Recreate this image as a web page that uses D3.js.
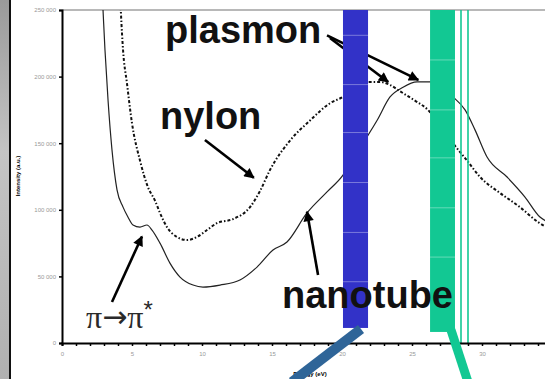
<!DOCTYPE html>
<html>
<head>
<meta charset="utf-8">
<script src="https://cdn.jsdelivr.net/npm/d3@7"></script>
<style>
  body { margin: 0; background: #fff; }
  svg { display: block; }
</style>
</head>
<body>
<div id="chart-area"></div>
<script>
// energy (eV) and intensity (a.u.)
var nanotubeE = [2.86, 2.93, 3.07, 3.29, 3.57, 3.93, 4.36, 4.71, 5.07, 5.57, 6.07, 6.43, 7.0, 7.71, 8.43, 9.36, 10.07, 11.29, 12.71, 13.93, 15.07, 16.07, 17.5, 18.93, 20.07, 20.93, 21.86, 22.5, 23.43, 24.36, 25.36, 26.29, 27.14, 27.93, 28.79, 29.5, 30.36, 31.79, 33.07, 34.14, 34.71];
var nanotubeI = [265000, 250000, 220000, 182000, 145000, 115000, 102000, 94600, 88600, 87000, 88600, 84800, 75000, 60000, 49500, 43500, 42000, 43500, 47300, 57000, 69800, 75800, 97600, 113400, 126000, 141000, 156000, 167000, 184700, 192000, 196000, 196000, 191000, 184700, 175000, 160000, 139600, 124600, 109600, 94600, 90800];

var nylonE = [4.14, 4.21, 4.36, 4.64, 5.0, 5.57, 6.14, 6.64, 7.0, 7.5, 8.21, 8.93, 9.64, 10.36, 11.07, 12.21, 13.43, 14.14, 14.86, 16.29, 17.71, 19.14, 20.07, 21.0, 21.86, 22.71, 23.43, 24.14, 25.21, 26.14, 27.0, 27.93, 28.93, 29.86, 31.29, 32.71, 34.0, 34.71];
var nylonI = [265000, 247700, 220000, 195000, 165000, 137000, 117000, 107000, 97600, 87000, 79600, 77300, 79600, 84800, 90000, 93000, 102000, 114000, 130000, 152000, 167000, 180000, 184700, 191000, 196000, 196000, 193700, 189000, 182000, 175000, 163700, 150000, 137000, 124600, 112600, 102000, 90800, 86300];

var xTickLabels = [0, 5, 10, 15, 20, 25, 30];
var yTickLabels = [0, 50000, 100000, 150000, 200000, 250000];

var width = 545;
var height = 379;
var margin = { top: 10, left: 62, bottom: 36 };
var plotBottom = height - margin.bottom;

var svg = d3.select("#chart-area")
    .append("svg")
    .attr("width", width)
    .attr("height", height);

var defs = svg.append("defs");

var x = d3.scaleLinear().domain([0, 35]).range([margin.left, 552]);
var y = d3.scaleLinear().domain([0, 250000]).range([plotBottom, margin.top]);

// grey photo strip on the left
var grad = defs.append("linearGradient").attr("id", "strip")
    .attr("x1", 0).attr("y1", 0).attr("x2", 0).attr("y2", 1);
grad.append("stop").attr("offset", "0%").attr("stop-color", "#9a9a9a");
grad.append("stop").attr("offset", "40%").attr("stop-color", "#c4c4c4");
grad.append("stop").attr("offset", "100%").attr("stop-color", "#b0b0b0");
svg.append("rect").attr("x", 0).attr("y", 0).attr("width", 9).attr("height", height).attr("fill", "url(#strip)");
svg.append("line").attr("x1", 10).attr("x2", 10).attr("y1", 0).attr("y2", height)
    .attr("stroke", "#111").attr("stroke-width", 2);

defs.append("clipPath").attr("id", "plot")
    .append("rect").attr("x", margin.left).attr("y", margin.top)
    .attr("width", width - margin.left).attr("height", plotBottom - margin.top);

// top frame line
svg.append("line").attr("x1", margin.left).attr("x2", width)
    .attr("y1", margin.top).attr("y2", margin.top)
    .attr("stroke", "#a0a0a0").attr("stroke-width", 1.5);

var line = d3.line()
    .x(d => x(d[0]))
    .y(d => y(d[1]))
    .curve(d3.curveMonotoneX);

var curves = svg.append("g").attr("clip-path", "url(#plot)");

curves.append("path")
    .datum(d3.zip(nanotubeE, nanotubeI))
    .attr("d", line)
    .attr("fill", "none")
    .attr("stroke", "#222")
    .attr("stroke-width", 1.2);

curves.append("path")
    .datum(d3.zip(nylonE, nylonI))
    .attr("d", line)
    .attr("fill", "none")
    .attr("stroke", "#111")
    .attr("stroke-width", 2)
    .attr("stroke-dasharray", "3,2,1.5,2");

// arrowhead
defs.append("marker").attr("id", "head")
    .attr("viewBox", "0 0 10 10").attr("refX", 9).attr("refY", 5)
    .attr("markerWidth", 4.5).attr("markerHeight", 4)
    .attr("markerUnits", "strokeWidth")
    .attr("orient", "auto")
    .append("path").attr("d", "M0,0L10,5L0,10Z").attr("fill", "#000");

function arrow(x1, y1, x2, y2) {
    svg.append("line")
        .attr("x1", x(x1)).attr("y1", y(y1))
        .attr("x2", x(x2)).attr("y2", y(y2))
        .attr("stroke", "#000").attr("stroke-width", 2.6)
        .attr("marker-end", "url(#head)");
}

// plasmon arrows sit beneath the coloured bands
arrow(18.93, 231000, 25.45, 197500);
arrow(19.14, 229000, 23.3, 196000);

// coloured bands
var blue = "#3232c8";
var green = "#12c893";

function band(e0, e1, bottom, col, stripes) {
    svg.append("rect")
        .attr("x", x(e0)).attr("y", y(250000))
        .attr("width", x(e1) - x(e0)).attr("height", y(bottom) - y(250000))
        .attr("fill", col);
    stripes.forEach(v => {
        svg.append("line")
            .attr("x1", x(e0)).attr("x2", x(e1))
            .attr("y1", y(v)).attr("y2", y(v))
            .attr("stroke", "#fff").attr("stroke-opacity", 0.35).attr("stroke-width", 1);
    });
}
band(20.07, 21.86, 11300, blue, [231000, 194000, 158000, 120500, 83000, 46000]);
band(26.29, 28.07, 8300, green, [212500, 175000, 139000, 101500, 64500]);

[28.5, 29.0].forEach(e => {
    svg.append("line")
        .attr("x1", x(e)).attr("x2", x(e))
        .attr("y1", y(250000)).attr("y2", y(0))
        .attr("stroke", green).attr("stroke-width", 1.6);
});

// axes
var xAxis = d3.axisBottom(x)
    .tickValues(d3.range(0, 36, 1))
    .tickSize(3)
    .tickFormat(d => xTickLabels.includes(d) ? d : "");
var gx = svg.append("g")
    .attr("transform", `translate(0, ${plotBottom})`)
    .call(xAxis);
gx.select(".domain").attr("stroke", "#000").attr("stroke-width", 2);
gx.selectAll(".tick line").attr("stroke", "#000").attr("stroke-width", 1.5);
gx.selectAll("text").attr("font-size", "6px").attr("fill", "#999")
    .attr("font-family", "Liberation Sans, Arial, sans-serif").attr("dy", "1.2em");

var yAxis = d3.axisLeft(y)
    .tickValues(yTickLabels)
    .tickSize(3)
    .tickFormat(d => d3.format(",")(d).replace(/,/g, " "));
var gy = svg.append("g")
    .attr("transform", `translate(${margin.left}, 0)`)
    .call(yAxis);
gy.select(".domain").attr("stroke", "#000").attr("stroke-width", 2);
gy.selectAll(".tick line").attr("stroke", "#000").attr("stroke-width", 1.5);
gy.selectAll("text").attr("font-size", "6px").attr("fill", "#999")
    .attr("font-family", "Liberation Sans, Arial, sans-serif");

svg.append("text")
    .attr("transform", "translate(20, 176) rotate(-90)")
    .attr("text-anchor", "middle")
    .attr("font-family", "Liberation Sans, Arial, sans-serif")
    .attr("font-size", "6px").attr("font-weight", "bold")
    .text("Intensity (a.u.)");

svg.append("text")
    .attr("x", 310).attr("y", 376)
    .attr("text-anchor", "middle")
    .attr("font-family", "Liberation Sans, Arial, sans-serif")
    .attr("font-size", "6px").attr("font-weight", "bold")
    .text("Energy (eV)");

// remaining arrows
arrow(3.57, 30800, 5.71, 80000);
arrow(10.21, 152400, 13.7, 124000);
arrow(18.29, 51000, 17.5, 98500);

// big labels
function label(txt, px, py) {
    svg.append("text")
        .attr("x", px).attr("y", py)
        .attr("font-family", "Liberation Sans, Arial, sans-serif")
        .attr("font-size", "38px").attr("font-weight", "bold")
        .attr("fill", "#111")
        .text(txt);
}
label("plasmon", 165, 43);
label("nylon", 160, 129);
label("nanotube", 282, 308);

var pi = svg.append("text")
    .attr("x", 86).attr("y", 328)
    .attr("font-family", "Liberation Serif, Times New Roman, serif")
    .attr("font-size", "32px")
    .attr("fill", "#2a2a2a");
pi.append("tspan").text("π");
pi.append("tspan").attr("font-family", "DejaVu Sans, sans-serif").attr("font-size", "30px").attr("dy", -1).text("→");
pi.append("tspan").attr("dy", 1).text("π");
pi.append("tspan").attr("font-family", "Liberation Sans, Arial, sans-serif").attr("font-size", "24px").attr("dy", -10).text("*");

// thick diagonal pointers from the bands
svg.append("line")
    .attr("x1", 361).attr("y1", 329).attr("x2", 292).attr("y2", 382)
    .attr("stroke", "#2f6598").attr("stroke-width", 10);
svg.append("line")
    .attr("x1", 451).attr("y1", 330).attr("x2", 468).attr("y2", 382)
    .attr("stroke", green).attr("stroke-width", 9);
</script>
</body>
</html>
